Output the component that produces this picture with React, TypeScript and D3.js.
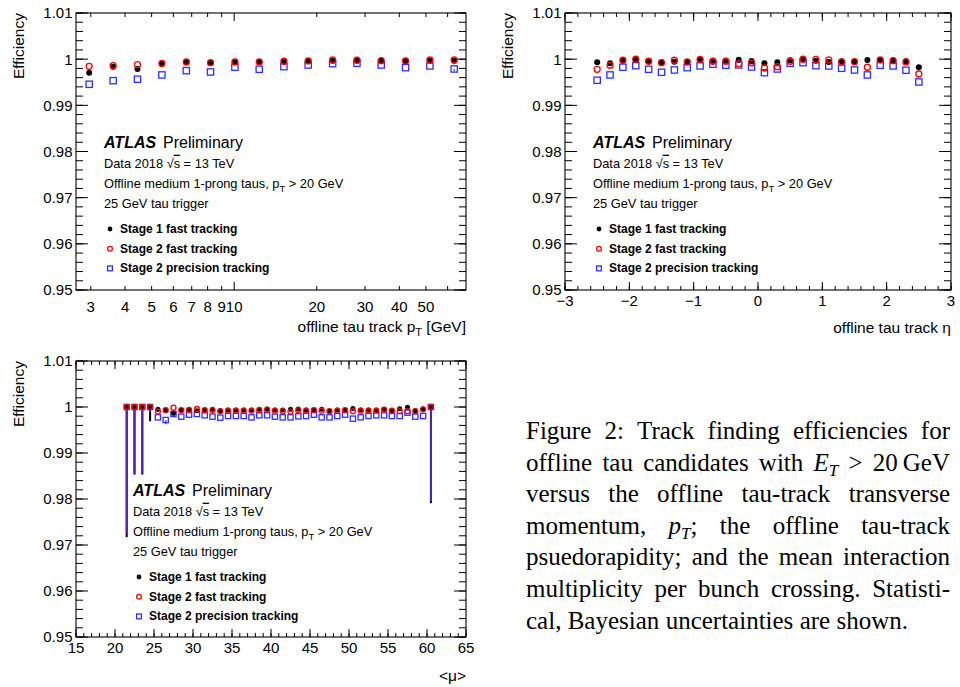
import * as d3 from 'd3';
import React, { useEffect, useRef } from 'react';

const SANS = "'Liberation Sans', Arial, Helvetica, sans-serif";
const SERIF = "'Liberation Serif', 'Times New Roman', serif";
const BLUE = '#2e2eff';
const RED = '#ff0000';

const effTicks = [0.95, 0.96, 0.97, 0.98, 0.99, 1, 1.01];

// offline tau track pT [GeV]
const ptBins = [2.96, 3.62, 4.44, 5.45, 6.69, 8.2, 10.06, 12.34, 15.18, 18.61, 22.85, 28.02, 34.36, 42.15, 51.7, 63.4];
const ptStage1 = [0.99708, 0.99838, 0.99788, 0.99896, 0.99933, 0.99918, 0.99933, 0.9994, 0.99946, 0.99961, 0.99968, 0.99968, 0.99968, 0.99961, 0.99968, 0.99968];
const ptStage2 = [0.99846, 0.99859, 0.99881, 0.99911, 0.9994, 0.99924, 0.9994, 0.9994, 0.99955, 0.99961, 0.99983, 0.99976, 0.99968, 0.99961, 0.99983, 0.99983];
const ptPrecision = [0.99456, 0.99534, 0.99565, 0.99658, 0.99751, 0.99723, 0.99825, 0.99781, 0.99838, 0.99874, 0.99903, 0.99911, 0.99874, 0.99816, 0.99853, 0.99788];
const ptMajorTicks = [10];
const ptMinorTicks = [3, 4, 5, 6, 7, 8, 9, 20, 30, 40, 50, 60];
const ptTickLabels = [3, 4, 5, 6, 7, 8, 9, 10, 20, 30, 40, 50];

// offline tau track eta
const etaBins = [-2.5, -2.3, -2.1, -1.9, -1.7, -1.5, -1.3, -1.1, -0.9, -0.7, -0.5, -0.3, -0.1, 0.1, 0.3, 0.5, 0.7, 0.9, 1.1, 1.3, 1.5, 1.7, 1.9, 2.1, 2.3, 2.5];
const etaStage1 = [0.99933, 0.99911, 0.99976, 0.99983, 0.99955, 0.99933, 0.99946, 0.9994, 0.99983, 0.99968, 0.99968, 0.99989, 0.99961, 0.99911, 0.99933, 0.99976, 0.99998, 0.99968, 0.9994, 0.99955, 0.99946, 0.99983, 0.99976, 0.99976, 0.99955, 0.99825];
const etaStage2 = [0.99781, 0.99868, 0.99976, 0.99998, 0.99955, 0.99924, 0.99976, 0.9994, 0.99995, 0.99955, 0.99955, 0.99903, 0.99918, 0.99809, 0.99838, 0.99955, 0.99998, 0.99995, 0.99983, 0.9994, 0.99946, 0.99825, 0.99983, 0.99968, 0.9994, 0.99679];
const etaPrecision = [0.99543, 0.99658, 0.99825, 0.99859, 0.99781, 0.99716, 0.99766, 0.99816, 0.99853, 0.9989, 0.99868, 0.99874, 0.99831, 0.99708, 0.99788, 0.99911, 0.99924, 0.99859, 0.99853, 0.99803, 0.99766, 0.99658, 0.99868, 0.99853, 0.9976, 0.99506];
const etaTickLabels = [-3, -2, -1, 0, 1, 2, 3];

// mean interactions per crossing <mu>
const muBins = [21.5, 22.5, 23.5, 24.5, 25.5, 26.5, 27.5, 28.5, 29.5, 30.5, 31.5, 32.5, 33.5, 34.5, 35.5, 36.5, 37.5, 38.5, 39.5, 40.5, 41.5, 42.5, 43.5, 44.5, 45.5, 46.5, 47.5, 48.5, 49.5, 50.5, 51.5, 52.5, 53.5, 54.5, 55.5, 56.5, 57.5, 58.5, 59.5, 60.5];
const muStage1 = [1, 1, 1, 1, 0.9995, 0.99935, 0.99863, 0.99935, 0.9995, 0.9992, 0.99935, 0.9995, 0.9992, 0.99935, 0.99935, 0.99935, 0.99935, 0.9995, 0.99957, 0.99935, 0.99935, 0.9995, 0.99957, 0.99935, 0.99935, 0.9995, 0.99913, 0.99935, 0.99935, 0.9997, 0.99935, 0.99935, 0.99935, 0.9995, 0.99913, 0.99964, 0.99995, 0.9992, 0.99957, 1];
const muStage2 = [1, 1, 1, 1, 0.999, 0.9993, 0.99986, 0.9993, 0.9993, 0.99957, 0.9993, 0.9993, 0.9991, 0.9992, 0.9992, 0.9992, 0.9992, 0.9993, 0.9994, 0.9992, 0.9991, 0.999, 0.9993, 0.9992, 0.9993, 0.9992, 0.9991, 0.9992, 0.9993, 0.9991, 0.9992, 0.9992, 0.9992, 0.9994, 0.9992, 0.9991, 0.9991, 0.9991, 0.9995, 1];
const muPrecision = [1, 1, 1, 1, 0.99775, 0.99717, 0.99848, 0.9979, 0.99833, 0.99848, 0.9982, 0.9979, 0.99768, 0.99804, 0.99804, 0.99804, 0.99775, 0.9982, 0.9982, 0.9979, 0.99775, 0.99775, 0.99797, 0.99804, 0.99833, 0.99775, 0.99775, 0.99804, 0.99833, 0.99746, 0.99775, 0.99804, 0.9982, 0.9982, 0.99804, 0.99804, 0.99877, 0.9979, 0.99804, 1];
// lower error bars [bin, size]
const muStage1Err = [[21.5, 0.0283], [22.5, 0.0147], [23.5, 0.0147], [24.5, 0.0031], [25.5, 0.0005], [27.5, 0.0005], [60.5, 0.0209]];
const muStage2Err = [[21.5, 0.0275], [22.5, 0.0145], [23.5, 0.0145], [60.5, 0.0205]];
const muPrecisionErr = [[21.5, 0.0275], [22.5, 0.0145], [23.5, 0.0145], [24.5, 0.0012], [26.5, 0.0009], [60.5, 0.0205]];
const muTickLabels = [15, 20, 25, 30, 35, 40, 45, 50, 55, 60, 65];

const legendItems = ['Stage 1 fast tracking', 'Stage 2 fast tracking', 'Stage 2 precision tracking'];

const captionLines = [
  'Figure 2: Track finding efficiencies for',
  'offline tau candidates with $E_T$ > 20~GeV',
  'versus the offline tau-track transverse',
  'momentum, $p_T$; the offline tau-track',
  'psuedorapidity; and the mean interaction',
  'multiplicity per bunch crossing. Statisti-',
  'cal, Bayesian uncertainties are shown.',
];

function Marker({ kind, cx, cy, r }: any) {
  if (kind === 0) return <circle cx={cx} cy={cy} r={r} fill="#000" />;
  if (kind === 1) return <circle cx={cx} cy={cy} r={r} fill="none" stroke={RED} strokeWidth={1.3} />;
  const s = r * 2;
  return <rect x={cx - s / 2} y={cy - s / 2} width={s} height={s} fill="none" stroke={BLUE} strokeWidth={1.3} />;
}

function Panel(props: any) {
  const { L, T, W, H, x, xMajor, xMinor, xLabels, xFmt, labelGap, xTitle, titleGap, bins, series, errs, annDx, r } = props;
  const y = d3.scaleLinear().domain([0.95, 1.01]).range([T + H, T]);
  const yMinor = y.ticks(30);
  const colors = ['#000', RED, BLUE];
  const bx = L + annDx;
  return (
    <g fontFamily={SANS}>
      <rect x={L} y={T} width={W} height={H} fill="none" stroke="#000" strokeWidth={1.1} />
      {yMinor.map((t: number) => (
        <g key={'ym' + t} stroke="#000">
          <line x1={L} x2={L + 7} y1={y(t)} y2={y(t)} />
          <line x1={L + W} x2={L + W - 7} y1={y(t)} y2={y(t)} />
        </g>
      ))}
      {effTicks.map((t) => (
        <g key={'yM' + t}>
          <line x1={L} x2={L + 12} y1={y(t)} y2={y(t)} stroke="#000" />
          <line x1={L + W} x2={L + W - 12} y1={y(t)} y2={y(t)} stroke="#000" />
          <text x={L - 3.5} y={y(t) + 5.4} textAnchor="end" fontSize={15}>{String(+t.toFixed(2))}</text>
        </g>
      ))}
      {xMinor.map((t: number) => (
        <g key={'xm' + t} stroke="#000">
          <line x1={x(t)} x2={x(t)} y1={T + H} y2={T + H - 4} />
          <line x1={x(t)} x2={x(t)} y1={T} y2={T + 4} />
        </g>
      ))}
      {xMajor.map((t: number) => (
        <g key={'xM' + t} stroke="#000">
          <line x1={x(t)} x2={x(t)} y1={T + H} y2={T + H - 8} />
          <line x1={x(t)} x2={x(t)} y1={T} y2={T + 8} />
        </g>
      ))}
      {xLabels.map((t: number) => (
        <text key={'xl' + t} x={x(t)} y={T + H + labelGap} textAnchor="middle" fontSize={15}>{xFmt(t)}</text>
      ))}
      <text x={L + W} y={T + H + titleGap} textAnchor="end" fontSize={15.5}>{xTitle}</text>
      <text transform={`translate(${L - 52},${T}) rotate(-90)`} textAnchor="end" fontSize={15.5}>Efficiency</text>

      {errs.map((es: number[][], k: number) =>
        es.map(([b, e]) => {
          const v = series[k][bins.indexOf(b)];
          return (
            <line key={'e' + k + b} x1={x(b)} x2={x(b)} y1={y(v)} y2={y(v - e)} stroke={colors[k]}
              strokeWidth={k === 0 ? 2 : 1.8} strokeOpacity={k === 0 ? 1 : 0.7} />
          );
        })
      )}
      {[2, 0, 1].map((k) =>
        bins.map((b: number, i: number) => (
          <Marker key={'m' + k + i} kind={k} cx={x(b)} cy={y(series[k][i])} r={k === 2 ? r * 1.05 : r} />
        ))
      )}

      <text x={bx} y={T + 134.5} fontSize={16}>
        <tspan fontWeight="bold" fontStyle="italic">ATLAS</tspan>
        <tspan x={bx + 59}>Preliminary</tspan>
      </text>
      <text x={bx} y={T + 154.7} fontSize={12.8}>
        Data 2018 <tspan>√</tspan><tspan style={{ textDecoration: 'overline' }}>s</tspan> = 13 TeV
      </text>
      <text x={bx} y={T + 174.7} fontSize={12.8}>
        Offline medium 1-prong taus, p<tspan dy={4} fontSize={9.5}>T</tspan><tspan dy={-4}> &gt; 20 GeV</tspan>
      </text>
      <text x={bx} y={T + 195} fontSize={12.8}>25 GeV tau trigger</text>
      {legendItems.map((label, k) => (
        <g key={label}>
          <Marker kind={k} cx={bx + 6} cy={T + 216 + k * 19.7} r={2.4} />
          <text x={bx + 16} y={T + 220 + k * 19.7} fontSize={12} fontWeight="bold">{label}</text>
        </g>
      ))}
    </g>
  );
}

export default function App() {
  const capRef = useRef<SVGGElement>(null);

  const xPt = d3.scaleLog().domain([2.65, 70]).range([76, 466]);
  const xEta = d3.scaleLinear().domain([-3, 3]).range([565, 951]);
  const xMu = d3.scaleLinear().domain([15, 65]).range([76, 466]);

  useEffect(() => {
    const g = d3.select(capRef.current);
    g.selectAll('*').remove();
    const left = 526;
    const right = 950;
    captionLines.forEach((line, i) => {
      const words = line.split(' ');
      const nodes = words.map((w) => {
        const t = g.append('text').attr('y', 439 + i * 31.6).attr('font-family', SERIF).attr('font-size', 25).attr('fill', '#000');
        const m = w.match(/^\$(.)_(.)\$(.*)$/);
        if (m) {
          t.append('tspan').attr('font-style', 'italic').text(m[1]);
          t.append('tspan').attr('font-style', 'italic').attr('font-size', 17).attr('dy', 5).text(m[2]);
          if (m[3]) t.append('tspan').attr('dy', -5).text(m[3]);
        } else {
          t.text(w.replace(/~/g, '\u2009'));
        }
        return t;
      });
      const widths = nodes.map((n) => (n.node() as SVGTextElement).getComputedTextLength());
      const total = d3.sum(widths);
      const last = i === captionLines.length - 1;
      const gap = last ? 6.3 : (right - left - total) / (words.length - 1);
      let xx = left;
      nodes.forEach((n, j) => {
        n.attr('x', xx);
        xx += widths[j] + gap;
      });
    });
  }, []);

  return (
    <svg width={960} height={687} style={{ position: 'absolute', left: 0, top: 0, background: '#fff' }}>
      <rect width={960} height={687} fill="#fff" />
      <Panel L={76} T={13} W={390} H={277} x={xPt}
        xMajor={ptMajorTicks} xMinor={ptMinorTicks} xLabels={ptTickLabels} xFmt={(t: number) => String(t)}
        labelGap={21.5} titleGap={42}
        xTitle={<>offline tau track p<tspan dy={4} fontSize={11}>T</tspan><tspan dy={-4}> [GeV]</tspan></>}
        bins={ptBins} series={[ptStage1, ptStage2, ptPrecision]} errs={[[], [], [[63.4, 0.0005]]]} annDx={28} r={3.0} />
      <Panel L={565} T={13} W={386} H={277} x={xEta}
        xMajor={etaTickLabels} xMinor={xEta.ticks(30)} xLabels={etaTickLabels}
        xFmt={(t: number) => (t < 0 ? '\u2212' + Math.abs(t) : String(t))}
        labelGap={15.5} titleGap={43}
        xTitle={<>offline tau track η</>}
        bins={etaBins} series={[etaStage1, etaStage2, etaPrecision]} errs={[[], [], []]} annDx={28} r={3.0} />
      <Panel L={76} T={361} W={390} H={276} x={xMu}
        xMajor={muTickLabels} xMinor={xMu.ticks(50)} xLabels={muTickLabels} xFmt={(t: number) => String(t)}
        labelGap={16} titleGap={44}
        xTitle={<>{'<μ>'}</>}
        bins={muBins} series={[muStage1, muStage2, muPrecision]} errs={[muStage1Err, muStage2Err, muPrecisionErr]} annDx={57} r={2.5} />
      <g ref={capRef} />
    </svg>
  );
}
